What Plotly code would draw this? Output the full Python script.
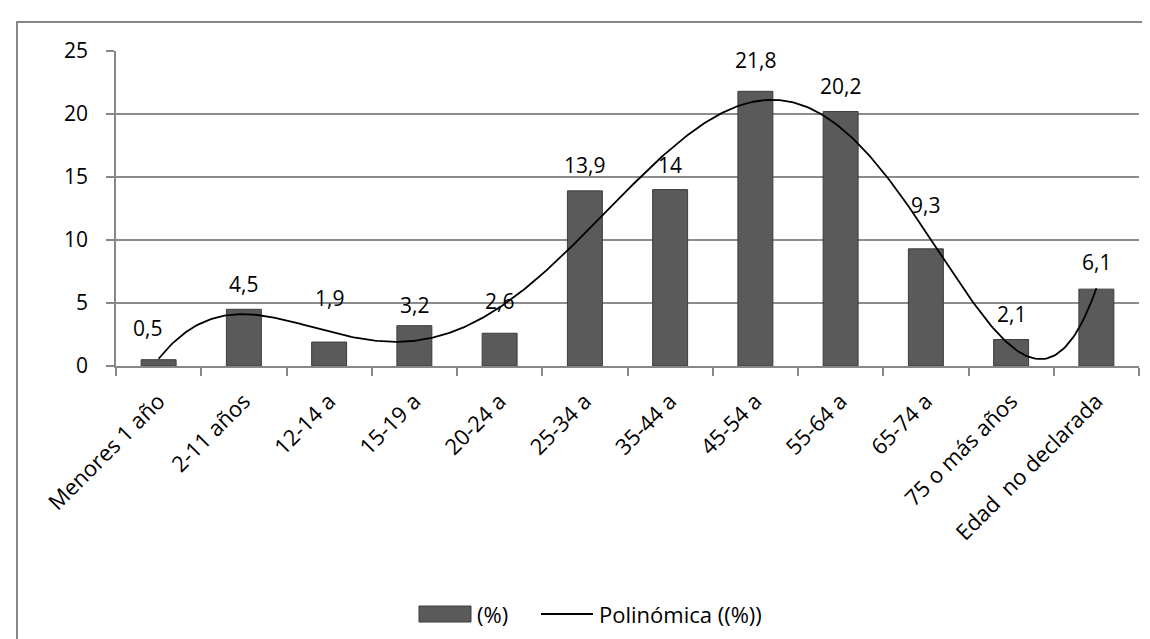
import numpy as np
import plotly.graph_objects as go

categories = ["Menores 1 año", "2-11 años", "12-14 a", "15-19 a", "20-24 a", "25-34 a",
              "35-44 a", "45-54 a", "55-64 a", "65-74 a", "75 o más años", "Edad  no declarada"]
values = [0.5, 4.5, 1.9, 3.2, 2.6, 13.9, 14, 21.8, 20.2, 9.3, 2.1, 6.1]
y_ticks = [0, 5, 10, 15, 20, 25]
bar_name = "(%)"
trend_name = "Polinómica ((%))"

# label placement (pixel offsets above bar tops, as positioned in the original)
label_yshift = [32, 25, 44, 21, 32, 26, 25, 31, 25, 44, 26, 27]
label_xshift = [-11, 0, 0, 0, 0, 0, 0, 0, 0, 0, 0, 0]

idx = np.arange(len(categories))
labels = [("%g" % v).replace(".", ",") for v in values]

# polynomial trendline (order 6), as Excel's "Polinómica"
coef = np.polyfit(idx, values, 6)
xs = np.linspace(0, len(categories) - 1, 400)
ys = np.polyval(coef, xs)

FONT = "Open Sans"
BAR_COLOR = "#5a5a5a"
BAR_EDGE = "#3c3c3c"
GRAY = "#878787"
W, H = 1150, 639
L, R, T, B = 108, 19, 43, 281
pw, ph = W - L - R, H - T - B

def px_x(p):
    return (p - L) / pw

def px_y(p):
    return (H - B - p) / ph

fig = go.Figure()
fig.add_trace(go.Bar(
    x=idx, y=values, width=0.41, name=bar_name, showlegend=False,
    marker=dict(color=BAR_COLOR, line=dict(color=BAR_EDGE, width=1)),
))
fig.add_trace(go.Scatter(
    x=xs, y=ys, mode="lines", name=trend_name, showlegend=False,
    line=dict(color="black", width=1.8),
))

for i, (v, t) in enumerate(zip(values, labels)):
    fig.add_annotation(x=i, y=v, text=t, showarrow=False, yanchor="middle",
                       yshift=label_yshift[i], xshift=label_xshift[i],
                       font=dict(family=FONT, size=21, color="black"))

# outer chart border (only left and top visible in crop)
fig.add_shape(type="rect", xref="paper", yref="paper",
              x0=px_x(9), x1=px_x(1170), y0=px_y(660), y1=px_y(14),
              line=dict(color=GRAY, width=2), fillcolor="rgba(0,0,0,0)", layer="below")

# legend (drawn to match the original's wide symbols)
ly = 606
fig.add_shape(type="rect", xref="paper", yref="paper",
              x0=px_x(411), x1=px_x(463), y0=px_y(614), y1=px_y(598),
              line=dict(color=BAR_EDGE, width=1), fillcolor=BAR_COLOR)
fig.add_shape(type="line", xref="paper", yref="paper",
              x0=px_x(533), x1=px_x(585), y0=px_y(ly), y1=px_y(ly),
              line=dict(color="black", width=1.8))
fig.add_annotation(xref="paper", yref="paper", x=px_x(467), y=px_y(ly), text=bar_name,
                   showarrow=False, xanchor="left", yanchor="middle",
                   font=dict(family=FONT, size=22, color="black"))
fig.add_annotation(xref="paper", yref="paper", x=px_x(589), y=px_y(ly), text=trend_name,
                   showarrow=False, xanchor="left", yanchor="middle",
                   font=dict(family=FONT, size=22, color="black"))

fig.update_layout(
    width=W, height=H,
    margin=dict(l=L, r=R, t=T, b=B),
    paper_bgcolor="white", plot_bgcolor="white",
    font=dict(family=FONT, size=21, color="black"),
    showlegend=False,
    bargap=0.59,
)
fig.update_xaxes(
    range=[-0.5, len(categories) - 0.5],
    tickmode="array", tickvals=idx, ticktext=categories, tickangle=-45,
    ticks="", showgrid=False, showline=True, linecolor=GRAY, linewidth=1.5,
    zeroline=False, ticklabelstandoff=12,
    tickfont=dict(family=FONT, size=22),
    minor=dict(tickmode="array", tickvals=list(np.arange(-0.5, len(categories), 1.0)),
               ticks="outside", ticklen=8, tickcolor=GRAY, tickwidth=1.5, showgrid=False),
)
fig.update_yaxes(
    range=[0, 25], tickmode="array", tickvals=y_ticks,
    ticks="outside", ticklen=8, tickcolor=GRAY, tickwidth=1.5,
    showgrid=True, gridcolor="#8c8c8c", gridwidth=1.5,
    showline=True, linecolor=GRAY, linewidth=1.5, zeroline=False,
    tickfont=dict(family=FONT, size=21), ticklabelstandoff=14,
)

fig.write_html("out.html")
